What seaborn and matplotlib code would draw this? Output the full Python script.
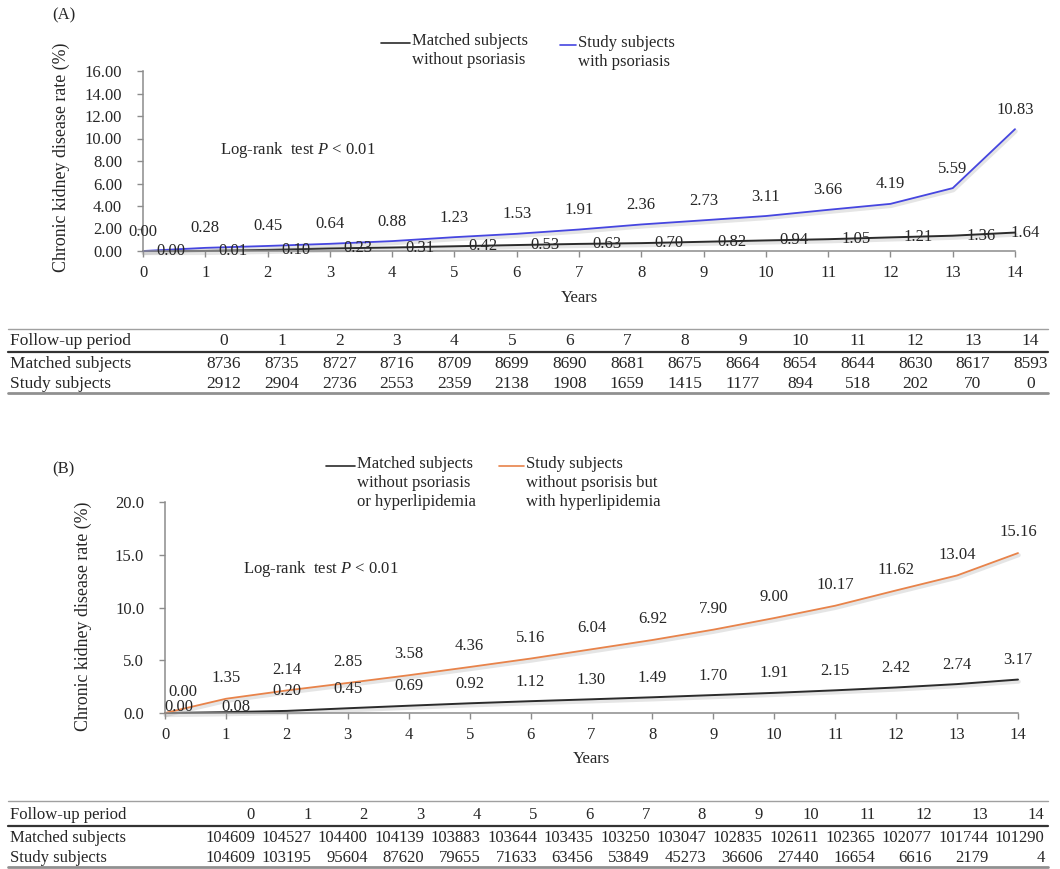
import matplotlib
matplotlib.use("Agg")
import matplotlib.pyplot as plt
import matplotlib.patheffects as pe
from matplotlib.lines import Line2D
import seaborn as sns

# ---- data ----
years = list(range(15))

a_matched = [0.00, 0.01, 0.10, 0.23, 0.31, 0.42, 0.53, 0.63, 0.70, 0.82, 0.94, 1.05, 1.21, 1.36, 1.64]
a_study = [0.00, 0.28, 0.45, 0.64, 0.88, 1.23, 1.53, 1.91, 2.36, 2.73, 3.11, 3.66, 4.19, 5.59, 10.83]
a_n_matched = [8736, 8735, 8727, 8716, 8709, 8699, 8690, 8681, 8675, 8664, 8654, 8644, 8630, 8617, 8593]
a_n_study = [2912, 2904, 2736, 2553, 2359, 2138, 1908, 1659, 1415, 1177, 894, 518, 202, 70, 0]

b_matched = [0.00, 0.08, 0.20, 0.45, 0.69, 0.92, 1.12, 1.30, 1.49, 1.70, 1.91, 2.15, 2.42, 2.74, 3.17]
b_study = [0.00, 1.35, 2.14, 2.85, 3.58, 4.36, 5.16, 6.04, 6.92, 7.90, 9.00, 10.17, 11.62, 13.04, 15.16]
b_n_matched = [104609, 104527, 104400, 104139, 103883, 103644, 103435, 103250, 103047, 102835,
               102611, 102365, 102077, 101744, 101290]
b_n_study = [104609, 103195, 95604, 87620, 79655, 71633, 63456, 53849, 45273, 36606,
             27440, 16654, 6616, 2179, 4]

a_legend = ["Matched subjects\nwithout psoriasis", "Study subjects\nwith psoriasis"]
b_legend = ["Matched subjects\nwithout psoriasis\nor hyperlipidemia",
            "Study subjects\nwithout psorisis but\nwith hyperlipidemia"]

BLACK = "#2b2b2b"
BLUE = "#4646e0"
ORANGE = "#e8834a"
GREY = "#8c8c8c"

W, H = 1060, 869

sns.set_style("ticks")
plt.rcParams["font.family"] = ["Liberation Serif", "DejaVu Serif"]
plt.rcParams["font.size"] = 12
plt.rcParams["mathtext.fontset"] = "custom"
plt.rcParams["mathtext.rm"] = "Liberation Serif"
plt.rcParams["mathtext.it"] = "Liberation Serif:italic"


def fx(x):
    return x / W


def fy(y):
    return 1 - y / H


fig = plt.figure(figsize=(W / 100, H / 100), dpi=100)
shadow = [pe.SimpleLineShadow(offset=(0.5, -1.5), shadow_color="0.6", alpha=0.25, linewidth=3),
          pe.Normal()]


def style_axes(ax, ymax, ystep, yfmt):
    ax.set_xlim(0, 14)
    ax.set_ylim(0, ymax)
    ax.set_xticks(years)
    ax.set_yticks([ystep * k for k in range(int(round(ymax / ystep)) + 1)])
    ax.set_yticklabels([yfmt.format(ystep * k) for k in range(int(round(ymax / ystep)) + 1)])
    sns.despine(ax=ax)
    for s in ("left", "bottom"):
        ax.spines[s].set_color(GREY)
        ax.spines[s].set_linewidth(1.1)
    ax.tick_params(axis="x", length=4, width=1, color=GREY, labelsize=12, pad=6)
    ax.tick_params(axis="y", length=4, width=1, color=GREY, labelsize=12, pad=11)
    ax.set_xlabel("Years", fontsize=12)
    ax.set_ylabel("Chronic kidney disease rate (%)", fontsize=12.9)


def legend_entry(x0, x1, y, text, color):
    fig.add_artist(Line2D([fx(x0), fx(x1)], [fy(y), fy(y)], color=color, lw=1.2,
                          transform=fig.transFigure))
    fig.text(fx(x1 + 2), fy(y - 10), text, ha="left", va="top", fontsize=12, linespacing=1.25)


def draw_table(top, head, rule, row1, row2, bottom, xs, ha, n_matched, n_study, size, right=1048):
    for y, c, lw in ((top, "#a0a0a0", 1.0), (rule, "#333333", 1.6), (bottom, "#909090", 2.0)):
        fig.add_artist(Line2D([fx(8), fx(right)], [fy(y), fy(y)], color=c, lw=lw,
                              transform=fig.transFigure))
    fig.text(fx(10), fy(head), "Follow-up period", va="center", fontsize=size)
    fig.text(fx(10), fy(row1), "Matched subjects", va="center", fontsize=size)
    fig.text(fx(10), fy(row2), "Study subjects", va="center", fontsize=size)
    for i, x in enumerate(xs):
        fig.text(fx(x), fy(head), str(years[i]), ha=ha, va="center", fontsize=size)
        fig.text(fx(x), fy(row1), str(n_matched[i]), ha=ha, va="center", fontsize=size)
        fig.text(fx(x), fy(row2), str(n_study[i]), ha=ha, va="center", fontsize=size)


# ---------------- panel A ----------------
axA = fig.add_axes([fx(143), fy(251), (1015 - 143) / W, (251 - 71) / H])
sns.lineplot(x=years, y=a_matched, ax=axA, color=BLACK, lw=1.4, clip_on=False, path_effects=shadow)
sns.lineplot(x=years, y=a_study, ax=axA, color=BLUE, lw=1.3, clip_on=False, path_effects=shadow)
style_axes(axA, 16, 2, "{:.2f}")
axA.xaxis.set_label_coords(0.5, -0.215)
axA.yaxis.set_label_coords(-0.084, 0.52)

for i, v in enumerate(a_study):
    axA.annotate(f"{v:.2f}", (years[i], v), xytext=(0, 14), textcoords="offset points",
                 ha="center", va="center", fontsize=12, annotation_clip=False)
for i, v in enumerate(a_matched):
    dx = 0.16 if i == len(years) - 1 else 0.45
    axA.text(years[i] + dx, v, f"{v:.2f}", ha="center", va="center", fontsize=12, clip_on=False)

fig.text(fx(52), fy(15), "(A)", ha="left", va="center", fontsize=12)
fig.text(fx(220), fy(150), "Log-rank  test $P$ < 0.01", ha="left", va="center", fontsize=12)
legend_entry(381, 410, 43, a_legend[0], BLACK)
legend_entry(560, 576, 45, a_legend[1], BLUE)

draw_table(329, 341, 352, 364, 384, 393, [224 + 57.6 * i for i in range(15)], "center",
           a_n_matched, a_n_study, 12.5)

# ---------------- panel B ----------------
axB = fig.add_axes([fx(165), fy(713), (1018 - 165) / W, (713 - 502) / H])
sns.lineplot(x=years, y=b_matched, ax=axB, color=BLACK, lw=1.4, clip_on=False, path_effects=shadow)
sns.lineplot(x=years, y=b_study, ax=axB, color=ORANGE, lw=1.3, clip_on=False, path_effects=shadow)
style_axes(axB, 20, 5, "{:.1f}")
axB.xaxis.set_label_coords(0.5, -0.18)
axB.yaxis.set_label_coords(-0.086, 0.46)

for i, v in enumerate(b_study):
    dx = 0.3 if i == 0 else 0.0
    axB.annotate(f"{v:.2f}", (years[i] + dx, v), xytext=(0, 15), textcoords="offset points",
                 ha="center", va="center", fontsize=12, annotation_clip=False)
for i, v in enumerate(b_matched):
    dx = {0: 0.23, 1: 0.16}.get(i, 0.0)
    dy = 4 if i < 2 else 14
    axB.annotate(f"{v:.2f}", (years[i] + dx, v), xytext=(0, dy), textcoords="offset points",
                 ha="center", va="center", fontsize=12, annotation_clip=False)

fig.text(fx(52), fy(469), "(B)", ha="left", va="center", fontsize=12)
fig.text(fx(243), fy(569), "Log-rank  test $P$ < 0.01", ha="left", va="center", fontsize=12)
legend_entry(326, 355, 466, b_legend[0], BLACK)
legend_entry(499, 524, 466, b_legend[1], ORANGE)

draw_table(801, 815, 826, 838, 858, 867, [255 + 56.4 * i for i in range(15)], "right",
           b_n_matched, b_n_study, 12)

fig.savefig("out.png", dpi=100)
